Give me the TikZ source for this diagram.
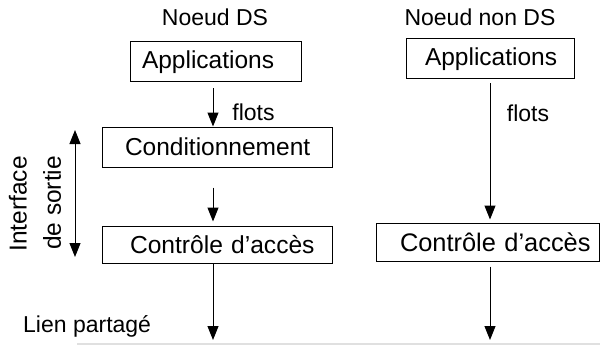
\documentclass[tikz,border=0pt]{standalone}
\usepackage{fontspec}
\setmainfont{Liberation Sans}
\usetikzlibrary{arrows.meta,calc}
\begin{document}
\begin{tikzpicture}[x=1pt,y=-1pt,
  fs/.style={font=\fontsize{#1}{#1}\selectfont},
  txt/.style={inner sep=0pt,fs=23},
  box/.style={txt,draw,line width=1pt,align=left},
  arr/.style={line width=1pt,-{Triangle[width=11pt,length=14pt]}},
  darr/.style={line width=1pt,{Triangle[width=11pt,length=14pt]}-{Triangle[width=11pt,length=14pt]}}]
\useasboundingbox (0,0) rectangle (600,345);
% titles
\node[txt,anchor=base] (tDS) at (215,26) {Noeud DS};
\node[txt,anchor=base] (tNDS) at (480,26) {Noeud non DS};
% left column
\node[box,fs=24.5,text width=171pt,minimum height=40pt] (appsL) at (215.5,62) {\hspace*{12pt}Applications};
\node[box,fs=24.5,text width=230pt,minimum height=40pt] (condL) at (217,147) {\hspace*{23pt}Conditionnement};
\node[box,fs=24.6,text width=230pt,minimum height=37pt] (ctlL) at (217,244.5) {\hspace*{28pt}Contr\^ole d’acc\`es};
\node[txt] (flotsL) at (253.5,112) {flots};
\coordinate (endL) at (213,340);
\draw[arr] ([xshift=-2.5pt,yshift=-6pt]appsL.south) -- ([xshift=-4pt]condL.north);
\draw[arr] ([xshift=-4pt,yshift=-20pt]condL.south) -- ([xshift=-4pt,yshift=4pt]ctlL.north);
\draw[arr] ([xshift=-4pt]ctlL.south) -- (endL);
% interface
\coordinate (dTop) at (75,130);
\coordinate (dBot) at (75,257);
\draw[darr] (dTop) -- (dBot);
\node[txt,fs=24.5,rotate=90] (if1) at (18,204) {Interface};
\node[txt,fs=24.5,rotate=90] (if2) at (52,203) {de sortie};
% right column
\node[box,fs=24.5,text width=168pt,minimum height=40pt] (appsR) at (490,59) {\hspace*{19pt}Applications};
\node[box,fs=25.4,text width=223pt,minimum height=38pt] (ctlR) at (487.5,242) {\hspace*{24pt}Contr\^ole d’acc\`es};
\node[txt] (flotsR) at (528,113) {flots};
\coordinate (endR) at (490,340);
\draw[arr] ([yshift=-4pt]appsR.south) -- ([xshift=2.5pt,yshift=3pt]ctlR.north);
\draw[arr] ([xshift=2.5pt,yshift=-5pt]ctlR.south) -- (endR);
% shared link
\node[txt,anchor=base west] (lien) at (23,332) {Lien partagé};
\coordinate (lA) at (77,344);
\coordinate (lB) at (600,344);
\draw[black!12,line width=1.5pt] (lA) -- (lB);
\end{tikzpicture}
\end{document}
